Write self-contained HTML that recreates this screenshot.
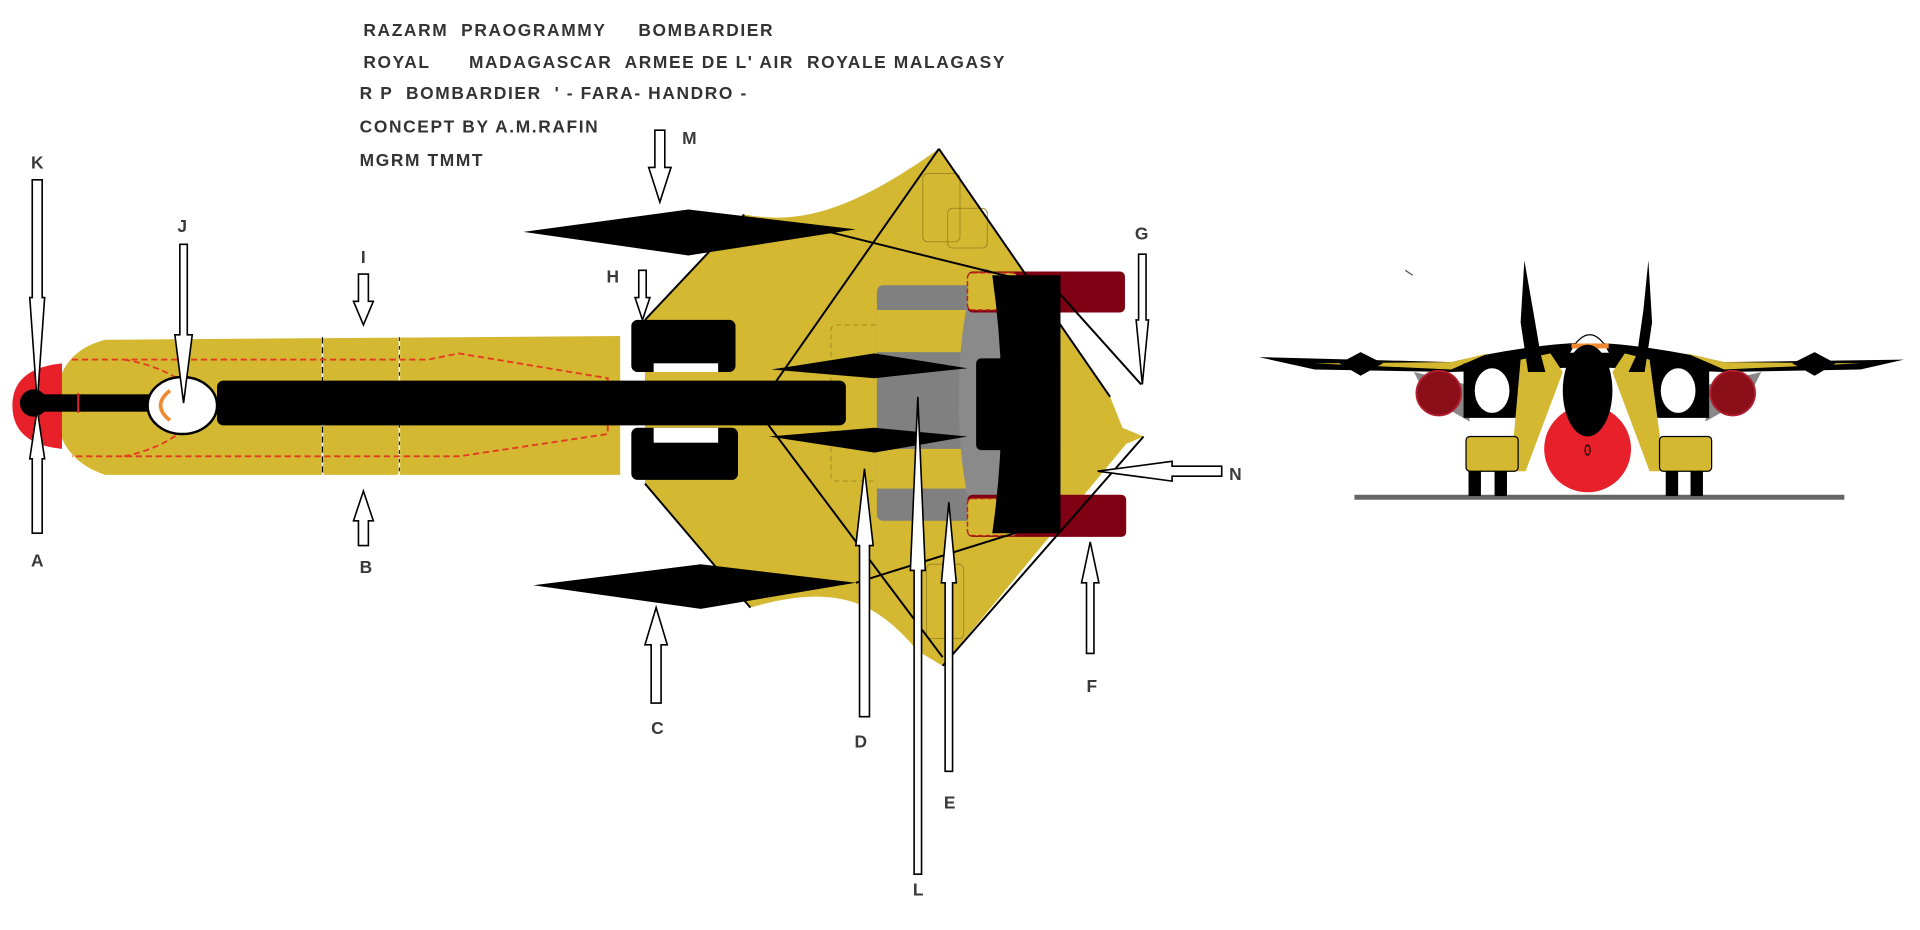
<!DOCTYPE html>
<html><head><meta charset="utf-8"><style>
html,body{margin:0;padding:0;background:#fff;width:1920px;height:930px;overflow:hidden}
svg{display:block}
text{font-family:"Liberation Sans",sans-serif;font-weight:bold;fill:#3a3a3a;white-space:pre}
.lbl{font-size:14px}
.t{font-size:14px;letter-spacing:1.3px;fill:#333}
.ar{fill:#fff;stroke:#000;stroke-width:1.3}
</style></head><body>
<svg width="1920" height="930" viewBox="0 0 1548 750" preserveAspectRatio="none" xmlns="http://www.w3.org/2000/svg" xml:space="preserve">
<rect width="1548" height="750" fill="#fff"/>
<text class="t" x="293" y="29">RAZARM  PRAOGRAMMY     BOMBARDIER</text>
<text class="t" x="293" y="55">ROYAL      MADAGASCAR  ARMEE DE L' AIR  ROYALE MALAGASY</text>
<text class="t" x="290" y="80">R P  BOMBARDIER  ' - FARA- HANDRO -</text>
<text class="t" x="290" y="107">CONCEPT BY A.M.RAFIN</text>
<text class="t" x="290" y="134">MGRM TMMT</text>

<path d="M600,173 C640,180 680,175 757,120 L895,320 L905,345 L922,352 L908,358 L760,537 L740,525 C710,490 680,468 605,490 L520,390 L520,258 Z" fill="#d4b832"/>
<rect x="744" y="140" width="30" height="55" rx="4" fill="none" stroke="#9a8420" stroke-width="0.7"/>
<rect x="764" y="168" width="32" height="32" rx="4" fill="none" stroke="#9a8420" stroke-width="0.7"/>
<rect x="747" y="455" width="30" height="60" rx="4" fill="none" stroke="#9a8420" stroke-width="0.7"/>
<rect x="670" y="262" width="70" height="126" rx="4" fill="none" stroke="#9a8420" stroke-width="0.7" stroke-dasharray="4,3"/>
<rect x="707" y="230" width="90" height="190" rx="5" fill="#808080"/>
<rect x="707" y="250" width="90" height="34" fill="#d4b832"/>
<rect x="707" y="362" width="90" height="32" fill="#d4b832"/>
<ellipse cx="795" cy="322" rx="22" ry="105" fill="#8a8a8a"/>
<rect x="780" y="219" width="127" height="33" rx="4" fill="#7e0012"/>
<rect x="780" y="399" width="128" height="34" rx="4" fill="#7e0012"/>
<rect x="780" y="220" width="40" height="30" rx="4" fill="#d4b832" stroke="#c0201a" stroke-width="1.2" stroke-dasharray="4,2"/>
<rect x="780" y="402" width="40" height="30" rx="4" fill="#d4b832" stroke="#c0201a" stroke-width="1.2" stroke-dasharray="4,2"/>
<path d="M800,222 L855,222 L855,430 L800,430 Q815,326 800,222 Z" fill="#000"/>
<rect x="787" y="289" width="68" height="74" rx="4" fill="#000"/>
<g stroke="#000" stroke-width="1.6" fill="none">
<path d="M757,120 L610,330 L760,530"/>
<path d="M757,120 L895,320"/>
<path d="M922,352 L760,537"/>
<path d="M640,180 L850,232 L920,310"/>
<path d="M690,470 L850,420"/>
<path d="M520,258 L600,173"/>
<path d="M520,390 L605,490"/>
</g>
<polygon points="622,298 705,285 780,297 705,305" fill="#000"/>
<polygon points="620,352 705,345 780,352 705,365" fill="#000"/>
<polygon points="422,187 555,169 690,185 555,206" fill="#000"/>
<polygon points="430,472 565,455 690,470 565,491" fill="#000"/>

<path d="M85,274 L500,271 L500,383 L85,383 Q45,370 45,327 Q45,284 85,274 Z" fill="#d4b832"/>
<rect x="260" y="270" width="62" height="114" rx="3" fill="none" stroke="#fff" stroke-width="1.2"/>
<line x1="260" y1="272" x2="260" y2="382" stroke="#000" stroke-width="1" stroke-dasharray="5,3"/>
<line x1="322" y1="272" x2="322" y2="382" stroke="#000" stroke-width="0.8" stroke-dasharray="3,4"/>
<path d="M10,327 Q10,297 50,293 L50,362 Q10,358 10,327 Z" fill="#e8202a"/>
<path d="M58,290 L345,290 L370,285 L490,305 L490,350 L370,368 L345,368 L58,368 M100,290 Q130,295 150,310 M100,368 Q130,362 150,345" fill="none" stroke="#e33a20" stroke-width="1.5" stroke-dasharray="5,3"/>
<rect x="22" y="318" width="100" height="14" fill="#000"/>
<circle cx="27" cy="325" r="11" fill="#000"/>
<line x1="63" y1="317" x2="63" y2="333" stroke="#e8202a" stroke-width="1.5"/>
<ellipse cx="147" cy="327" rx="28" ry="23" fill="#fff" stroke="#000" stroke-width="2"/>
<path d="M137,315 Q122,327 137,339" fill="none" stroke="#f08a30" stroke-width="3"/>
<rect x="175" y="307" width="507" height="36" rx="5" fill="#000"/>
<rect x="509" y="258" width="84" height="42" rx="5" fill="#000"/>
<rect x="509" y="345" width="86" height="42" rx="5" fill="#000"/>
<rect x="527" y="293" width="52" height="7" fill="#fff"/>
<rect x="527" y="345" width="52" height="12" fill="#fff"/>

<g class="ar">
<polygon points="26,145 34,145 34,240 36,240 30,325 24,240 26,240"/>
<polygon points="26,430 34,430 34,370 36,370 30,330 24,370 26,370"/>
<polygon points="145,197 151,197 151,270 155,270 148,325 141,270 145,270"/>
<polygon points="289,221 297,221 297,243 301,243 293,262 285,243 289,243"/>
<polygon points="289,440 297,440 297,420 301,420 293,396 285,420 289,420"/>
<polygon points="515,218 521,218 521,240 524,240 518,258 512,240 515,240"/>
<polygon points="528,105 536,105 536,135 541,135 532,163 523,135 528,135"/>
<polygon points="525,567 533,567 533,520 538,520 529,490 520,520 525,520"/>
<polygon points="693,578 701,578 701,440 704,440 697,378 690,440 693,440"/>
<polygon points="737,705 743,705 743,460 746,460 740,320 734,460 737,460"/>
<polygon points="762,622 768,622 768,470 771,470 765,405 759,470 762,470"/>
<polygon points="876,527 882,527 882,470 886,470 879,437 872,470 876,470"/>
<polygon points="918,205 924,205 924,258 926,258 921,310 916,258 918,258"/>
<polygon points="985,376 985,384 945,384 945,388 885,380 945,372 945,376"/>
</g>
<text class="lbl" x="25" y="136">K</text>
<text class="lbl" x="143" y="187">J</text>
<text class="lbl" x="291" y="212">I</text>
<text class="lbl" x="489" y="228">H</text>
<text class="lbl" x="550" y="116">M</text>
<text class="lbl" x="915" y="193">G</text>
<text class="lbl" x="25" y="457">A</text>
<text class="lbl" x="290" y="462">B</text>
<text class="lbl" x="525" y="592">C</text>
<text class="lbl" x="689" y="603">D</text>
<text class="lbl" x="761" y="652">E</text>
<text class="lbl" x="736" y="722">L</text>
<text class="lbl" x="876" y="558">F</text>
<text class="lbl" x="991" y="387">N</text>

<rect x="1092" y="399" width="395" height="4" fill="#666"/>
<path d="M1140,300 L1182,310 L1185,340 L1150,320 Z" fill="#888"/>
<path d="M1420,300 L1378,310 L1375,340 L1410,320 Z" fill="#888"/>
<path d="M1015,288 L1170,292 Q1230,278 1280,276 Q1330,278 1390,292 L1535,290 L1500,298 L1390,300 L1280,296 L1170,300 L1060,298 Z" fill="#000"/>
<path d="M1060,293 L1170,292 L1200,285 L1170,298 Z" fill="#d4b832"/>
<path d="M1500,293 L1390,292 L1360,285 L1390,298 Z" fill="#d4b832"/>
<polygon points="1080,293 1097,284 1115,293 1097,303" fill="#000"/>
<polygon points="1445,293 1463,284 1480,293 1463,303" fill="#000"/>
<circle cx="1160" cy="317" r="18" fill="#8a0f18" stroke="#b02030" stroke-width="1.5"/>
<circle cx="1397" cy="317" r="18" fill="#8a0f18" stroke="#b02030" stroke-width="1.5"/>
<rect x="1180" y="293" width="46" height="44" fill="#000"/>
<rect x="1330" y="293" width="48" height="44" fill="#000"/>
<ellipse cx="1203" cy="315" rx="14" ry="18" fill="#fff"/>
<ellipse cx="1353" cy="315" rx="14" ry="18" fill="#fff"/>
<path d="M1226,290 L1250,285 L1260,300 L1230,380 L1218,380 Z" fill="#d4b832"/>
<path d="M1330,290 L1310,285 L1300,300 L1330,380 L1342,380 Z" fill="#d4b832"/>
<path d="M1229,210 L1236,250 L1242,285 L1246,300 L1232,300 L1226,260 Z" fill="#000"/>
<path d="M1329,210 L1332,260 L1326,300 L1313,300 L1320,285 L1325,250 Z" fill="#000"/>
<path d="M1265,285 Q1282,255 1298,285 Z" fill="#fff" stroke="#000"/>
<rect x="1267" y="277" width="30" height="4" fill="#f08a30"/>
<circle cx="1280" cy="362" r="35" fill="#e8202a"/>
<ellipse cx="1280" cy="363" rx="2" ry="4" fill="none" stroke="#000"/>
<ellipse cx="1280" cy="315" rx="20" ry="37" fill="#000"/>
<rect x="1182" y="352" width="42" height="28" rx="3" fill="#d4b832" stroke="#000"/>
<rect x="1338" y="352" width="42" height="28" rx="3" fill="#d4b832" stroke="#000"/>
<rect x="1184" y="380" width="10" height="20" fill="#000"/>
<rect x="1205" y="380" width="10" height="20" fill="#000"/>
<rect x="1343" y="380" width="10" height="20" fill="#000"/>
<rect x="1363" y="380" width="10" height="20" fill="#000"/>
<line x1="1133" y1="218" x2="1139" y2="222" stroke="#555"/>
</svg>
</body></html>
